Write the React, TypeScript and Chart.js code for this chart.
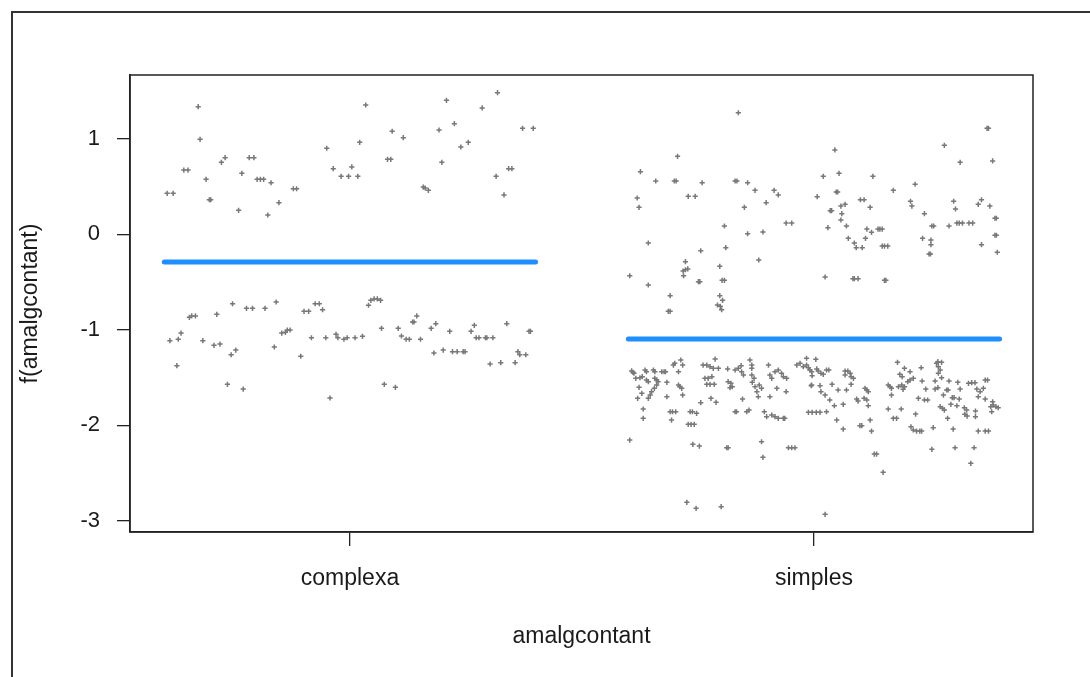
import React, { useEffect, useRef } from 'react';
import { Chart, registerables } from 'chart.js';

Chart.register(...registerables);

const categories = ['complexa', 'simples'];
const yTicks = [1, 0, -1, -2, -3];
const xTitle = 'amalgcontant';
const yTitle = 'f(amalgcontant)';
const fitted = [-0.29, -1.096];
const lineHalfWidth = 0.4;

const complexaJitter = [
  -0.394, -0.381, -0.358, -0.349, -0.327, -0.323, -0.310, -0.303, -0.300, -0.277,
  -0.269, -0.240, -0.233, -0.217, -0.207, -0.200, -0.193, -0.186, -0.170, -0.177,
  -0.153, -0.122, -0.115, -0.050, -0.036, -0.019, -0.003, 0.004, 0.017, 0.021,
  0.034, 0.081, 0.088, 0.091, 0.115, 0.158, 0.162, 0.169, 0.192, 0.198,
  0.208, 0.225, 0.239, 0.255, 0.285, 0.318, 0.315, 0.332, 0.342, 0.349,
  0.372, 0.395,
  -0.388, -0.370, -0.373, -0.364, -0.346, -0.341, -0.333, -0.317, -0.293, -0.287,
  -0.280, -0.264, -0.256, -0.253, -0.246, -0.230, -0.223, -0.210, -0.183, -0.163,
  -0.159, -0.147, -0.139, -0.135, -0.129, -0.106, -0.099, -0.089, -0.083, -0.075,
  -0.066, -0.059, -0.052, -0.043, -0.030, -0.026, -0.013, -0.006, 0.011, 0.027,
  0.040, 0.045, 0.052, 0.059, 0.066, 0.068, 0.074, 0.098, 0.104, 0.111,
  0.121, 0.128, 0.135, 0.138, 0.144, 0.152, 0.175, 0.185, 0.181, 0.201,
  0.215, 0.221, 0.231, 0.244, 0.248, 0.261, 0.268, 0.272, 0.278, 0.292,
  0.295, 0.308, 0.302, 0.325, 0.338, 0.356, 0.362, 0.366, 0.379, 0.386,
  0.389,
];

const complexaResid = [
  0.429, 0.429, 0.673, 0.673, 1.336, 0.995, 0.576, 0.362, 0.362, 0.754,
  0.802, 0.251, 0.639, 0.802, 0.802, 0.576, 0.576, 0.576, 0.540, 0.202,
  0.331, 0.477, 0.477, 0.901, 0.687, 0.607, 0.607, 0.705, 0.607, 0.963,
  1.354, 0.785, 0.785, 1.079, 1.012, 0.495, 0.485, 0.461, 1.092, 0.754,
  1.403, 1.158, 0.914, 0.963, 1.323, 1.483, 0.607, 0.412, 0.687, 0.687,
  1.110, 1.110,
  -1.114, -1.099, -1.376, -1.034, -0.869, -0.855, -0.855, -1.114, -1.162, -0.838,
  -1.149, -1.571, -1.261, -0.727, -1.212, -1.620, -0.775, -0.775, -0.775, -1.180,
  -0.709, -1.034, -1.026, -1.002, -1.002, -1.277, -0.806, -0.806, -1.083, -0.727,
  -0.727, -0.790, -1.083, -1.714, -1.047, -1.083, -1.099, -1.083, -1.083, -1.068,
  -0.743, -0.691, -0.677, -0.677, -0.691, -0.984, -1.571, -1.602, -0.984, -1.065,
  -1.099, -1.099, -0.918, -0.918, -0.855, -1.099, -0.984, -0.936, -1.243, -1.212,
  -1.016, -1.229, -1.229, -1.229, -1.229, -1.016, -0.953, -1.083, -1.083, -1.083,
  -1.083, -1.083, -1.358, -1.344, -0.936, -1.344, -1.229, -1.261, -1.261, -1.016,
  -1.016,
];

const simplesJitter = [
  -0.163, -0.294, -0.374, -0.341, -0.301, -0.297, -0.241, -0.170, -0.166, -0.143,
  -0.127, -0.086, -0.077, -0.381, -0.271, -0.256, -0.377, -0.150, -0.103, -0.060,
  -0.048, -0.193, -0.143, -0.110, -0.357, -0.190, -0.244, -0.119, -0.277, -0.203,
  -0.397, -0.282, -0.277, -0.272, -0.281, -0.357, -0.249, -0.246, -0.198, -0.193,
  -0.310, -0.203, -0.197, -0.208, -0.202, -0.199, -0.314, -0.310,
  0.373, 0.376, 0.281, 0.045, 0.315, 0.385, 0.020, 0.054, 0.127, 0.218,
  0.171, 0.048, 0.051, 0.007, 0.100, 0.108, 0.208, 0.211, 0.058, 0.067,
  0.121, 0.301, 0.305, 0.361, 0.354, 0.379, 0.035, 0.038, 0.060, 0.238,
  0.058, 0.390, 0.393, 0.030, 0.070, 0.254, 0.258, 0.291, 0.308, 0.313,
  0.320, 0.334, 0.342, 0.114, 0.124, 0.138, 0.142, 0.147, 0.074, 0.111,
  0.234, 0.252, 0.252, 0.087, 0.091, 0.104, 0.147, 0.152, 0.159, 0.390,
  0.393, 0.361, 0.395, 0.248, 0.251, 0.024, 0.084, 0.087, 0.095, 0.152,
  0.155,
  -0.393, -0.390, -0.388, -0.364, -0.361, -0.346, -0.343, -0.328, -0.323, -0.320,
  -0.384, -0.375, -0.370, -0.377, -0.361, -0.357, -0.343, -0.339, -0.336, -0.339,
  -0.344, -0.350, -0.353, -0.357, -0.371, -0.380, -0.317, -0.317, -0.303, -0.300,
  -0.287, -0.283, -0.292, -0.292, -0.289, -0.285, -0.283, -0.368, -0.368, -0.310,
  -0.305, -0.298, -0.307, -0.267, -0.262, -0.253, -0.271, -0.265, -0.258, -0.244,
  -0.239, -0.231, -0.224, -0.217, -0.206, -0.213, -0.235, -0.228, -0.220, -0.231,
  -0.224, -0.215, -0.222, -0.211, -0.186, -0.185, -0.179, -0.176, -0.181, -0.170,
  -0.163, -0.157, -0.156, -0.152, -0.138, -0.134, -0.134, -0.134, -0.129, -0.133,
  -0.127, -0.123, -0.120, -0.154, -0.170, -0.167, -0.145, -0.140, -0.188, -0.185,
  -0.113, -0.110, -0.107, -0.102, -0.091, -0.084, -0.077, -0.066, -0.063, -0.098,
  -0.095, -0.091, -0.084, -0.077, -0.070, -0.066, -0.059, -0.118, -0.113, -0.080,
  -0.095, -0.060, -0.037, -0.030, -0.023, -0.016, -0.005, -0.055, -0.048, -0.041,
  -0.397, -0.261, -0.247, -0.016, -0.012, -0.009, -0.005, -0.004, 0.004, 0.006,
  0.009, 0.015, 0.020, 0.027, 0.032, 0.067, 0.073, 0.078, 0.080, 0.085,
  0.067, -0.006, 0.013, 0.015, 0.024, 0.039, 0.052, 0.070, 0.080, 0.034,
  0.044, 0.063, 0.092, 0.095, 0.108, 0.114, 0.110, 0.114, 0.117, 0.117,
  -0.012, -0.004, 0.005, 0.013, 0.027, 0.049, 0.063, 0.099, 0.103, 0.121,
  0.124, 0.130, 0.135, 0.149, 0.160, 0.164, 0.167, 0.167, 0.160, 0.171,
  0.178, 0.188, 0.180, 0.185, 0.190, 0.182, 0.189, 0.195, 0.192, 0.195,
  0.202, 0.207, 0.207, 0.214, 0.231, 0.233, 0.241, 0.225, 0.238, 0.245,
  0.219, 0.209, 0.214, 0.221, 0.228, 0.232, 0.257, 0.254, 0.264, 0.268,
  0.272, 0.268, 0.267, 0.275, 0.261, 0.261, 0.267, 0.275, 0.279, 0.286,
  0.289, 0.291, 0.298, 0.302, 0.310, 0.313, 0.295, 0.308, 0.272, 0.277,
  0.281, 0.288, 0.300, 0.304, 0.315, 0.333, 0.340, 0.347, 0.351, 0.358,
  0.354, 0.365, 0.369, 0.374, 0.324, 0.329, 0.325, 0.330, 0.348, 0.348,
  0.369, 0.381, 0.386, 0.392, 0.397, 0.385, 0.383, 0.354, 0.369, 0.376,
  0.345, 0.338, -0.274, -0.254, -0.200, 0.024,
];

const simplesResid = [
  1.273, 0.817, 0.656, 0.558, 0.558, 0.558, 0.540, 0.558, 0.558, 0.540,
  0.461, 0.461, 0.412, 0.380, 0.398, 0.398, 0.283, 0.283, 0.331, 0.118,
  0.118, 0.087, 0.006, 0.024, -0.091, -0.140, -0.172, -0.269, -0.287, -0.335,
  -0.434, -0.384, -0.371, -0.363, -0.434, -0.531, -0.496, -0.496, -0.482, -0.482,
  -0.643, -0.643, -0.691, -0.740, -0.754, -0.790, -0.806, -0.806,
  1.110, 1.110, 0.932, 0.883, 0.754, 0.768, 0.607, 0.639, 0.607, 0.524,
  0.461, 0.443, 0.443, 0.394, 0.362, 0.362, 0.346, 0.296, 0.296, 0.314,
  0.283, 0.346, 0.265, 0.362, 0.314, 0.296, 0.247, 0.247, 0.216, 0.216,
  0.150, 0.168, 0.168, 0.069, 0.087, 0.087, 0.087, 0.087, 0.118, 0.118,
  0.118, 0.118, 0.118, 0.055, 0.021, 0.055, 0.055, 0.055, -0.042, -0.042,
  -0.042, -0.060, -0.109, -0.091, -0.140, -0.140, -0.123, -0.123, -0.123, -0.010,
  -0.010, -0.109, -0.188, -0.206, -0.206, -0.447, -0.465, -0.465, -0.465, -0.482,
  -0.482,
  -1.430, -1.445, -1.455, -1.421, -1.439, -1.421, -1.439, -1.439, -1.439, -1.439,
  -1.508, -1.502, -1.491, -1.602, -1.526, -1.543, -1.508, -1.526, -1.543, -1.578,
  -1.613, -1.648, -1.683, -1.717, -1.665, -1.717, -1.550, -1.701, -1.369, -1.351,
  -1.316, -1.369, -1.439, -1.578, -1.596, -1.613, -1.683, -1.829, -1.927, -1.858,
  -1.858, -1.858, -1.945, -1.858, -1.858, -1.874, -1.990, -1.990, -1.990, -1.763,
  -1.369, -1.369, -1.386, -1.403, -1.403, -1.306, -1.508, -1.508, -1.491, -1.571,
  -1.571, -1.571, -1.717, -1.759, -1.410, -1.543, -1.560, -1.596, -1.606, -1.421,
  -1.403, -1.376, -1.439, -1.473, -1.316, -1.369, -1.403, -1.473, -1.508, -1.550,
  -1.596, -1.648, -1.701, -1.725, -1.858, -1.858, -1.858, -1.840, -2.235, -2.235,
  -2.172, -2.335, -1.858, -1.910, -1.892, -1.910, -1.927, -1.927, -1.927, -1.369,
  -1.473, -1.508, -1.439, -1.421, -1.455, -1.491, -1.508, -1.578, -1.613, -1.613,
  -1.701, -1.648, -1.369, -1.351, -1.386, -1.298, -1.578, -2.235, -2.235, -2.235,
  -2.154, -2.199, -2.217, -1.369, -1.397, -1.421, -1.439, -1.481, -1.309, -1.410,
  -1.431, -1.455, -1.466, -1.421, -1.421, -1.431, -1.431, -1.455, -1.491, -1.508,
  -1.473, -1.585, -1.585, -1.648, -1.683, -1.571, -1.630, -1.630, -1.571, -1.735,
  -1.795, -1.780, -1.725, -1.746, -1.717, -1.735, -1.613, -1.630, -1.648, -1.795,
  -1.864, -1.864, -1.864, -1.864, -1.858, -1.945, -2.039, -2.004, -2.004, -1.945,
  -2.060, -2.301, -2.301, -2.492, -1.578, -1.596, -1.613, -1.683, -1.829, -1.927,
  -1.927, -1.829, -1.340, -1.466, -1.491, -1.596, -1.578, -1.596, -1.623, -1.403,
  -1.543, -1.526, -1.439, -1.508, -1.397, -1.536, -1.620, -1.717, -1.735, -1.735,
  -1.882, -2.015, -2.049, -2.060, -2.060, -2.060, -2.025, -2.251, -1.351, -1.386,
  -1.421, -1.455, -1.334, -1.340, -1.536, -1.620, -1.606, -1.502, -1.683, -1.630,
  -1.630, -1.536, -1.711, -1.711, -1.550, -1.725, -1.780, -1.795, -1.805, -1.822,
  -1.840, -1.927, -2.039, -2.235, -1.620, -1.560, -1.554, -1.554, -1.620, -1.648,
  -1.701, -1.613, -1.526, -1.526, -1.816, -1.840, -1.885, -1.903, -1.850, -1.910,
  -1.725, -1.805, -1.787, -1.805, -1.816, -1.753, -1.858, -2.060, -2.060, -2.060,
  -2.235, -2.398, -2.806, -2.869, -2.852, -2.932,
];

const FONT = '"Liberation Sans", Arial, Helvetica, sans-serif';
const POINT_COLOR = '#787878';
const LINE_COLOR = '#1E8FFF';
const INK = '#1a1a1a';

const boxAndTitles = {
  id: 'boxAndTitles',
  afterDraw(chart: any) {
    const { ctx, chartArea: a } = chart;
    ctx.save();
    ctx.strokeStyle = '#222';
    ctx.lineWidth = 1.5;
    ctx.strokeRect(a.left, a.top, a.right - a.left, a.bottom - a.top);
    ctx.fillStyle = INK;
    ctx.font = `23px ${FONT}`;
    ctx.textAlign = 'center';
    ctx.textBaseline = 'middle';
    ctx.fillText(xTitle, (a.left + a.right) / 2, 637);
    ctx.translate(31, (a.top + a.bottom) / 2);
    ctx.rotate(-Math.PI / 2);
    ctx.fillText(yTitle, 0, 0);
    ctx.restore();
  },
};

export default function App() {
  const ref = useRef<HTMLCanvasElement>(null);

  useEffect(() => {
    const canvas = ref.current;
    if (!canvas) return;
    const toPoints = (center: number, jit: number[], res: number[]) =>
      jit.map((j, i) => ({ x: center + j, y: res[i] }));

    const pointDs = (center: number, jit: number[], res: number[]) => ({
      data: toPoints(center, jit, res),
      pointStyle: 'cross',
      pointRadius: 2.6,
      pointBorderWidth: 1.5,
      borderWidth: 1.5,
      borderColor: POINT_COLOR,
      backgroundColor: POINT_COLOR,
      showLine: false,
      order: 2,
    });

    const lineDs = fitted.map((f, i) => ({
      data: [
        { x: i + 1 - lineHalfWidth, y: f },
        { x: i + 1 + lineHalfWidth, y: f },
      ],
      showLine: true,
      borderColor: LINE_COLOR,
      backgroundColor: LINE_COLOR,
      borderWidth: 5,
      borderCapStyle: 'round',
      pointRadius: 0,
      order: 0,
    }));

    const chart = new Chart(canvas, {
      type: 'scatter',
      data: {
        datasets: [
          pointDs(1, complexaJitter, complexaResid),
          pointDs(2, simplesJitter, simplesResid),
          ...lineDs,
        ] as any,
      },
      options: {
        responsive: false,
        animation: false,
        devicePixelRatio: 1,
        layout: { padding: { top: 75, right: 57, left: 0, bottom: 0 } },
        plugins: { legend: { display: false }, tooltip: { enabled: false } },
        scales: {
          x: {
            type: 'linear',
            min: 0.526,
            max: 2.472,
            afterFit: (s: any) => {
              s.height = 145;
            },
            afterBuildTicks: (s: any) => {
              s.ticks = categories.map((_, i) => ({ value: i + 1 }));
            },
            ticks: {
              callback: (v: any) => categories[Number(v) - 1] ?? '',
              font: { family: FONT, size: 23 },
              color: INK,
              padding: 19,
              maxRotation: 0,
              autoSkip: false,
            },
            grid: {
              drawOnChartArea: false,
              drawTicks: true,
              tickLength: 14,
              color: '#222',
              lineWidth: 1.3,
            },
            border: { display: true, color: '#222', width: 1.5 },
          },
          y: {
            type: 'linear',
            min: -3.117,
            max: 1.668,
            afterFit: (s: any) => {
              s.width = 130;
            },
            afterBuildTicks: (s: any) => {
              s.ticks = yTicks.map((v) => ({ value: v }));
            },
            ticks: {
              callback: (v: any) => String(v),
              font: { family: FONT, size: 22 },
              color: INK,
              padding: 17,
              autoSkip: false,
            },
            grid: {
              drawOnChartArea: false,
              drawTicks: true,
              tickLength: 13,
              color: '#222',
              lineWidth: 1.3,
            },
            border: { display: true, color: '#222', width: 1.5 },
          },
        },
      } as any,
      plugins: [boxAndTitles],
    });
    return () => chart.destroy();
  }, []);

  return (
    <div style={{ position: 'absolute', left: 0, top: 0, width: 1090, height: 677, background: '#fff' }}>
      <div
        style={{
          position: 'absolute',
          left: 11,
          top: 11,
          width: 1090 - 11,
          height: 677 - 11,
          borderLeft: '2px solid #333',
          borderTop: '2px solid #333',
          boxSizing: 'border-box',
        }}
      />
      <canvas
        ref={ref}
        width={1090}
        height={677}
        style={{ position: 'absolute', left: 0, top: 0, display: 'block' }}
      />
    </div>
  );
}
